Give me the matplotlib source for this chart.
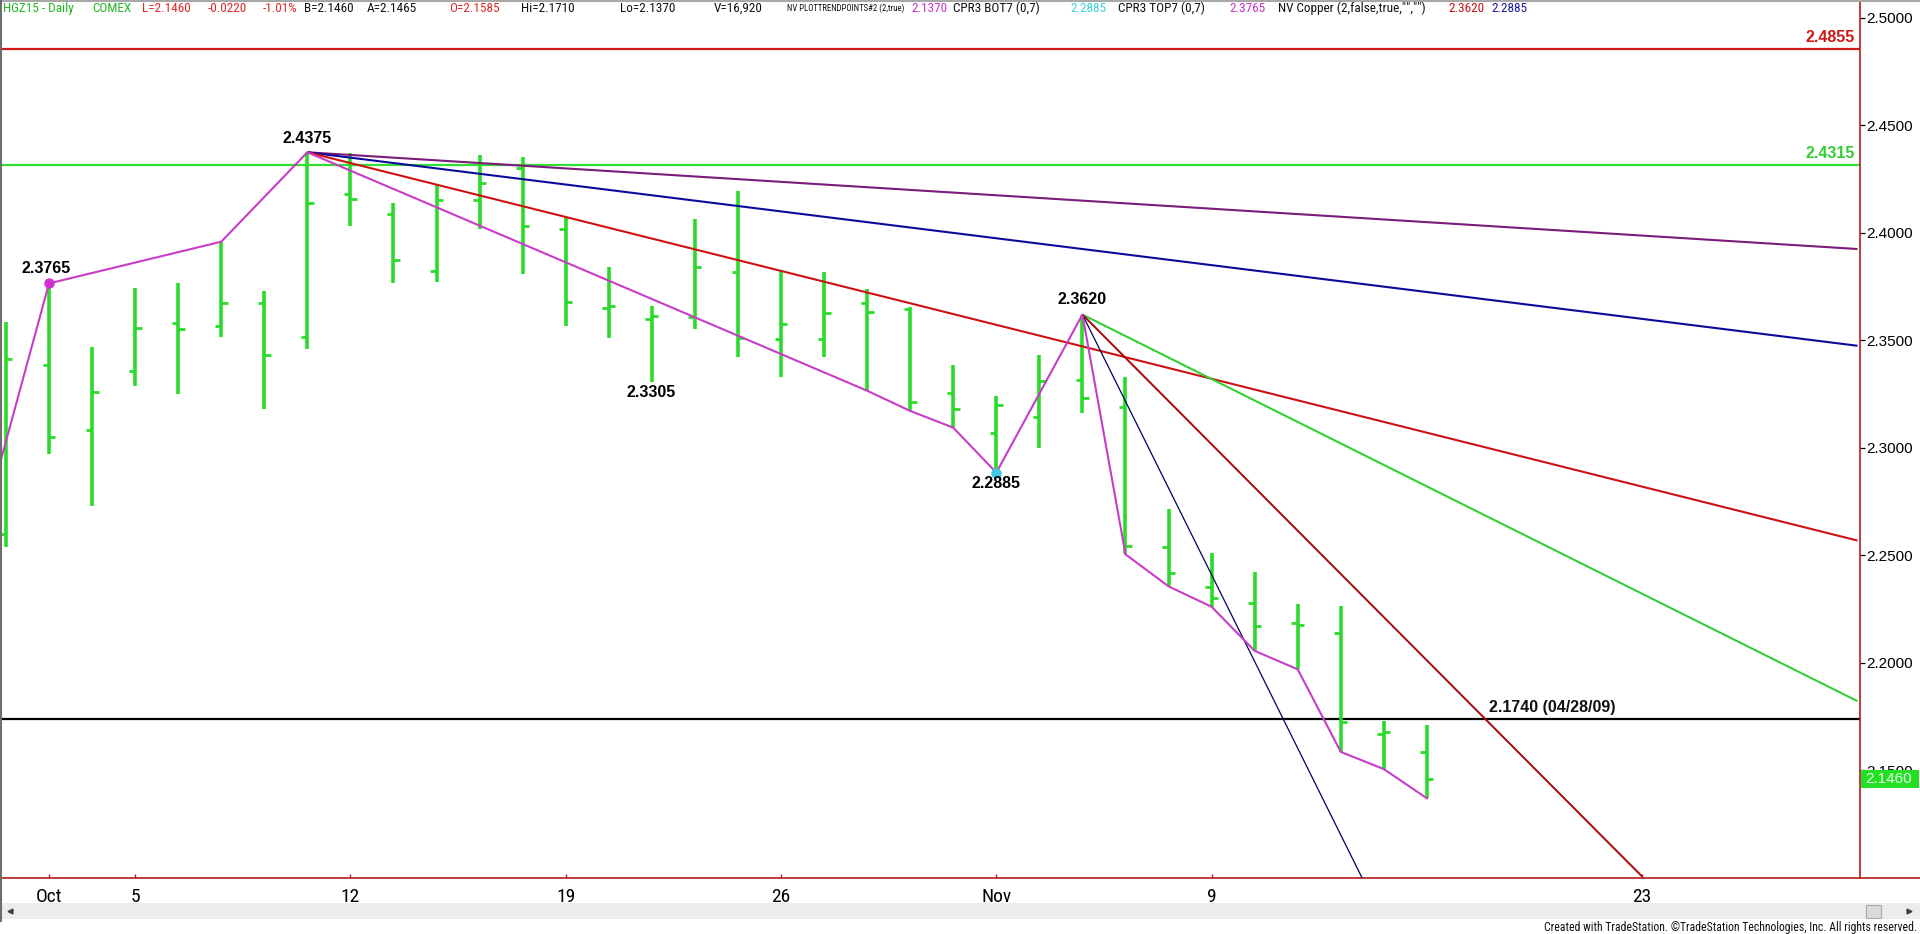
import os
import matplotlib
matplotlib.use('Agg')
import matplotlib.pyplot as plt
from matplotlib.lines import Line2D
from matplotlib.patches import Rectangle
from matplotlib import font_manager as fm

W, H, DPI = 1920, 934, 100
FONT = ['Liberation Sans', 'DejaVu Sans']


def pick_condensed():
    cands = [('Liberation Sans Narrow', 'normal'), ('Roboto Condensed', 'normal'),
             ('Open Sans Condensed', 'normal'), ('Noto Sans', 'condensed'),
             ('Open Sans', 'condensed'), ('Roboto', 'condensed'),
             ('DejaVu Sans', 'condensed')]
    for fam, st in cands:
        try:
            p = fm.findfont(fm.FontProperties(family=fam, stretch=st),
                            fallback_to_default=False)
        except Exception:
            continue
        name = os.path.basename(p).lower()
        if 'narrow' in name or 'condensed' in name or 'cond' in name:
            return fam, st
    return None


COND = pick_condensed()


def cond_props(size, weight='normal'):
    if COND is None:
        return fm.FontProperties(family=FONT, size=size, weight=weight)
    return fm.FontProperties(family=[COND[0]] + FONT, stretch=COND[1], size=size, weight=weight)

# ---------------- data ----------------
# trading-day index: 0 = Oct 1 2015
bar_idx = list(range(-1, 33))
opens = [2.2600, 2.3384, 2.3083, 2.3357, 2.3579, 2.3568, 2.3675, 2.3514,
         2.4183, 2.4086, 2.3821, 2.4152, 2.4303, 2.4016, 2.3651, 2.3601,
         2.3609, 2.3817, 2.3508, 2.3508, 2.3676, 2.3648, 2.3255, 2.3068,
         2.3146, 2.3316, 2.3190, 2.2540, 2.2353, 2.2278, 2.2186, 2.2140,
         2.1670, 2.1585]
highs = [2.3586, 2.3765, 2.3471, 2.3742, 2.3768, 2.3959, 2.3731, 2.4375,
         2.4370, 2.4137, 2.4222, 2.4362, 2.4354, 2.4072, 2.3843, 2.3661,
         2.4065, 2.4194, 2.3827, 2.3817, 2.3739, 2.3656, 2.3386, 2.3242,
         2.3433, 2.3620, 2.3330, 2.2717, 2.2511, 2.2425, 2.2273, 2.2266,
         2.1728, 2.1710]
lows = [2.2537, 2.2970, 2.2731, 2.3289, 2.3250, 2.3517, 2.3179, 2.3462,
        2.4031, 2.3765, 2.3773, 2.4020, 2.3808, 2.3567, 2.3511, 2.3305,
        2.3554, 2.3422, 2.3328, 2.3422, 2.3266, 2.3172, 2.3094, 2.2885,
        2.3001, 2.3164, 2.2505, 2.2356, 2.2261, 2.2056, 2.1970, 2.1586,
        2.1506, 2.1370]
closes = [2.3412, 2.3049, 2.3258, 2.3556, 2.3551, 2.3672, 2.3430, 2.4141,
          2.4157, 2.3876, 2.4155, 2.4230, 2.4033, 2.3678, 2.3661, 2.3614,
          2.3843, 2.3511, 2.3575, 2.3629, 2.3632, 2.3214, 2.3183, 2.3199,
          2.3313, 2.3230, 2.2545, 2.2420, 2.2300, 2.2173, 2.2178, 2.1723,
          2.1678, 2.1460]

tick_idx = [0, 2, 7, 12, 17, 22, 27, 37]
tick_labels = ['Oct', '5', '12', '19', '26', 'Nov', '9', '23']
price_ticks = [2.15, 2.20, 2.25, 2.30, 2.35, 2.40, 2.45, 2.50]

# trend-point zigzag
zig_idx = [-2, 0, 4, 6, 19, 20, 21, 22, 24, 25, 26, 27, 28, 29, 30, 31, 32]
zig_val = [2.2296, 2.3765, 2.3959, 2.4375, 2.3266, 2.3172, 2.3094, 2.2885,
           2.3620, 2.2505, 2.2356, 2.2261, 2.2056, 2.1970, 2.1586, 2.1506,
           2.1370]

# fan / trend lines (start idx, start price, end idx, end price)
fan_x0 = [6, 6, 6, 24, 24, 24]
fan_y0 = [2.4375, 2.4375, 2.4375, 2.3620, 2.3620, 2.3620]
fan_x1 = [42, 42, 42, 42, 37, 31]
fan_y1 = [2.3925, 2.3475, 2.2569, 2.1822, 2.1006, 2.0796]
fan_colors = ['#7A1A7A', '#0A0A9A', '#D01010', '#33D033', '#A80808', '#000060']
fan_widths = [1.5, 1.5, 1.5, 1.5, 1.4, 0.9]

# horizontal levels
level_vals = [2.4855, 2.4315, 2.1740]
level_colors = ['#D01818', '#33DD33', '#000000']

# pivot labels
pivot_idx = [6, 0, 14, 22, 24]
pivot_val = [2.4375, 2.3765, 2.3305, 2.2885, 2.3620]
pivot_txt = ['2.4375', '2.3765', '2.3305', '2.2885', '2.3620']
pivot_dy = [14, 15, -10, -10.5, 15]   # pixels
pivot_dx = [0, -2.5, -1, 0, 0]

last_price = 2.1460

# ---------------- figure ----------------
fig = plt.figure(figsize=(W / DPI, H / DPI), dpi=DPI, facecolor='white')
AX_BOTTOM = 878
AX_RIGHT = 1860
ax = fig.add_axes([0, (H - AX_BOTTOM) / H, AX_RIGHT / W, AX_BOTTOM / H])
ax.set_facecolor('white')

ax.set_xlim(-49 / 43.06, (AX_RIGHT - 49) / 43.06)
ax.set_ylim(2.5 - (AX_BOTTOM - 17.9) / 2150, 2.5 + 17.9 / 2150)

px = 0.72  # points per pixel

# OHLC bars
bar_green = '#2BDB2B'
tk = 0.15
ax.vlines(bar_idx, lows, highs, color=bar_green, lw=2.6, zorder=3)
ax.hlines(opens, [i - tk for i in bar_idx], bar_idx, color=bar_green, lw=2.0, zorder=3)
ax.hlines(closes, bar_idx, [i + tk for i in bar_idx], color=bar_green, lw=2.0, zorder=3)

# horizontal levels
for v, c in zip(level_vals, level_colors):
    ax.axhline(v, color=c, lw=1.6, zorder=2)

# fan lines
for x0, y0, x1, y1, c, w in zip(fan_x0, fan_y0, fan_x1, fan_y1, fan_colors, fan_widths):
    ax.plot([x0, x1], [y0, y1], color=c, lw=w, zorder=4, solid_capstyle='butt')

# zigzag
ax.plot(zig_idx, zig_val, color='#C83CC8', lw=1.5, zorder=5)
ax.plot([0], [2.3765], 'o', color='#D030D0', ms=6.5, zorder=6)
ax.plot([22], [2.2885], 'o', color='#40C8E8', ms=6.5, zorder=6)

# pivot labels
for i, v, t, dy, dx in zip(pivot_idx, pivot_val, pivot_txt, pivot_dy, pivot_dx):
    ax.annotate(t, (i, v), xytext=(dx * px, dy * px), textcoords='offset points',
                ha='center', va='center', fontsize=11.5, fontweight='bold',
                family=FONT, color='black', zorder=7)

ax.annotate('2.1740 (04/28/09)', (33.44, 2.1740), xytext=(0, 4 * px),
            textcoords='offset points', ha='left', va='bottom', fontsize=11.5,
            fontweight='bold', family=FONT, color='#111111', zorder=7)

ytr = ax.get_yaxis_transform()
for v, c, t in zip(level_vals[:2], ['#D01818', '#33CC33'], ['2.4855', '2.4315']):
    ax.annotate(t, (1855 / AX_RIGHT, v), xycoords=ytr, xytext=(0, 4 * px),
                textcoords='offset points', ha='right', va='bottom', fontsize=11.5,
                fontweight='bold', family=FONT, color=c, zorder=7)

# axes styling
axis_red = '#B01E1E'
for s in ['top', 'left']:
    ax.spines[s].set_visible(False)
ax.spines['right'].set_color(axis_red)
ax.spines['bottom'].set_color(axis_red)
ax.spines['right'].set_linewidth(1.2)
ax.spines['bottom'].set_linewidth(1.2)

ax.yaxis.tick_right()
ax.set_yticks(price_ticks)
ax.set_yticklabels(['%.4f' % p for p in price_ticks])
ax.tick_params(axis='y', direction='out', length=5 * px, width=0.9, color='black',
               pad=1 * px, labelsize=11, labelcolor='black')
for lab in ax.get_yticklabels():
    lab.set_family(FONT)

ax.set_xticks(tick_idx)
ax.set_xticklabels(tick_labels)
ax.tick_params(axis='x', direction='in', length=4 * px, width=1, color=axis_red,
               pad=10 * px, labelsize=13)
for lab in ax.get_xticklabels():
    lab.set_fontproperties(cond_props(13 if COND is None else 14))


def fx(x):
    return x / W


def fy(y):
    return 1 - y / H


# last price box
fig.patches.append(Rectangle((fx(1860.5), fy(788)), 58 / W, 18 / H, transform=fig.transFigure,
                             facecolor='#22E022', edgecolor='none', zorder=10))
fig.text(fx(1889), fy(779), '%.4f' % last_price, ha='center', va='center', fontsize=11,
         color='#E8FFE8', family=FONT, zorder=11)

# extension of x axis line under price scale
fig.add_artist(Line2D([fx(1860), fx(1920)], [fy(878), fy(878)], color=axis_red, lw=1.2,
                      transform=fig.transFigure))
# top and left window borders
fig.add_artist(Line2D([0, 1], [fy(0.7), fy(0.7)], color='#A8A8A8', lw=1.5,
                      transform=fig.transFigure))
fig.add_artist(Line2D([fx(0.7), fx(0.7)], [fy(0), fy(921)], color='#6E6E6E', lw=1.5,
                      transform=fig.transFigure))

# scrollbar
fig.patches.append(Rectangle((0, fy(919)), 1, 16 / H, transform=fig.transFigure,
                             facecolor='#ECECEC', edgecolor='none', zorder=1))
fig.patches.append(Rectangle((fx(1866), fy(918)), 15 / W, 13 / H, transform=fig.transFigure,
                             facecolor='#DADADA', edgecolor='#A6A6A6', lw=0.8, zorder=2))
fig.add_artist(Line2D([fx(10)], [fy(911)], marker='<', ms=3.5, color='#404040',
                      linestyle='none', transform=fig.transFigure))
fig.add_artist(Line2D([fx(1909)], [fy(911)], marker='>', ms=3.5, color='#404040',
                      linestyle='none', transform=fig.transFigure))

renderer = fig.canvas.get_renderer()


def fit_text(x, y, s, color, size, max_w, props_fn, **kw):
    t = fig.text(fx(x), fy(y), s, color=color, **kw)
    while True:
        t.set_fontproperties(props_fn(size))
        w = t.get_window_extent(renderer).width
        if w <= max_w or size <= 5:
            break
        size -= 0.2
    return t


fit_text(1917, 928, 'Created with TradeStation. \u00a9TradeStation Technologies, Inc. All rights reserved.',
         '#111111', 9.5, 374, cond_props, ha='right', va='center')

# header (start x in pixels, end limit in pixels, text, colour)
header = [
    (3, 88, 'HGZ15 - Daily', '#22B822'),
    (92, 140, 'COMEX', '#22B822'),
    (142, 206, 'L=2.1460', '#E02828'),
    (208, 261, '-0.0220', '#E02828'),
    (263, 302, '-1.01%', '#E02828'),
    (304, 365, 'B=2.1460', '#111111'),
    (367, 447, 'A=2.1465', '#111111'),
    (449, 518, 'O=2.1585', '#E02828'),
    (520.5, 618, 'Hi=2.1710', '#111111'),
    (620, 712, 'Lo=2.1370', '#111111'),
    (714, 785, 'V=16,920', '#111111'),
    (787, 908, 'NV PLOTTRENDPOINTS#2 (2,true)', '#111111'),
    (911, 951, '2.1370', '#CC33CC'),
    (953, 1068, 'CPR3 BOT7 (0,7)', '#111111'),
    (1070, 1116, '2.2885', '#40D0E0'),
    (1118, 1227, 'CPR3 TOP7 (0,7)', '#111111'),
    (1229.5, 1276, '2.3765', '#CC33CC'),
    (1278, 1446, 'NV Copper (2,false,true,"","")', '#111111'),
    (1448.7, 1489, '2.3620', '#CC1010'),
    (1491.5, 1540, '2.2885', '#1A1AA0'),
]
for x0, x1, t, c in header:
    fit_text(x0, 8.5, t, c, 9.5, x1 - x0 - 1, cond_props, ha='left', va='center')

fig.savefig('out.png', dpi=DPI, facecolor='white')
